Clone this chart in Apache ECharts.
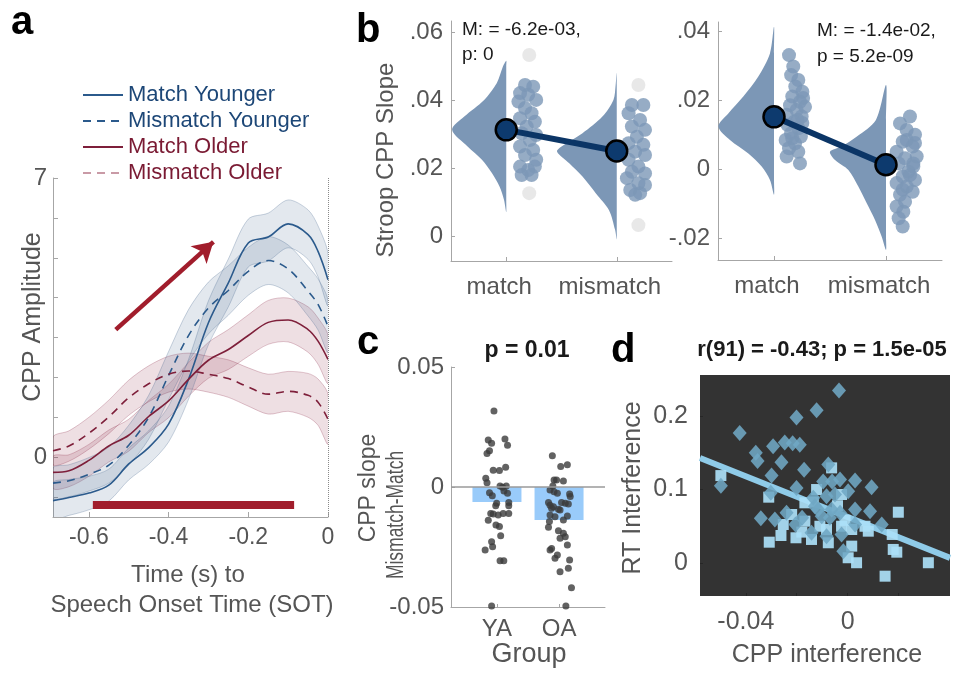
<!DOCTYPE html>
<html><head><meta charset="utf-8">
<script src="https://cdn.jsdelivr.net/npm/echarts@6/dist/echarts.min.js"></script>
<style>html,body{margin:0;padding:0;background:#fff}#c{width:953px;height:673px}</style>
</head><body><div id="c"></div>
<script>
// ================= DATA =================
// Panel a: CPP amplitude time courses
const timeS = [-0.69,-0.65,-0.6,-0.55,-0.5,-0.45,-0.4,-0.35,-0.3,-0.25,-0.2,-0.15,-0.1,-0.05,-0.025,0];
const matchYounger    = [-1.09,-1.01,-0.9,-0.7,-0.17,0.24,0.83,1.95,3.37,4.37,5.37,5.52,5.85,5.58,5.16,4.45];
const mismatchYounger = [-0.65,-0.59,-0.43,-0.2,0.3,1.0,2.05,3.05,3.74,4.18,4.66,4.93,4.72,4.16,3.83,3.28];
const matchOlder      = [-0.38,-0.34,-0.08,0.28,0.55,1.02,1.41,1.95,2.43,2.7,3.05,3.38,3.44,3.2,2.91,2.45];
const mismatchOlder   = [0.16,0.28,0.6,1.01,1.49,1.84,2.08,2.16,2.08,1.97,1.76,1.58,1.65,1.55,1.38,0.95];
const semMatchYounger    = [0.45,0.45,0.42,0.4,0.4,0.42,0.45,0.5,0.55,0.6,0.6,0.6,0.6,0.62,0.64,0.65];
const semMismatchYounger = [0.38,0.4,0.42,0.45,0.5,0.55,0.6,0.65,0.65,0.62,0.6,0.6,0.6,0.62,0.64,0.65];
const semMatchOlder      = [0.4,0.4,0.4,0.4,0.4,0.4,0.42,0.42,0.45,0.5,0.52,0.55,0.55,0.57,0.58,0.6];
const semMismatchOlder   = [0.35,0.38,0.4,0.42,0.44,0.45,0.45,0.45,0.45,0.47,0.48,0.5,0.5,0.55,0.58,0.62];
const sigWindow = [-0.59, -0.085];
const sigLevel = -1.2;
const arrowFrom = [-0.5325, 3.2];
const arrowTo = [-0.2875, 5.4];
const aXTicks = [-0.6, -0.4, -0.2, 0];
const aYTicks = [-1,0,1,2,3,4,5,6,7];
const aYLabels = [0, 7];

// Panel b: raincloud (left: younger, right: older)
const bCategories = ['match', 'mismatch'];
const b1Means = [0.0312, 0.0250];
const b2Means = [0.0151, 0.0012];
const b1Stats = ['M: = -6.2e-03,', 'p: 0'];
const b2Stats = ['M: = -1.4e-02,', 'p = 5.2e-09'];
const b1YTicks = [0, 0.02, 0.04, 0.06];
const b2YTicks = [-0.02, 0, 0.02, 0.04];
// violin profiles: [value, half-density width]
const b1VioMatch = [[0.0515,0],[0.0498,0.03],[0.045,0.085],[0.04,0.2],[0.0351,0.38],[0.0312,0.49],[0.0263,0.35],[0.0224,0.22],[0.0185,0.13],[0.0145,0.06],[0.0106,0.02],[0.007,0]];
const b1VioMismatch = [[0.048,0],[0.0444,0.01],[0.04,0.03],[0.0351,0.13],[0.0302,0.31],[0.0263,0.5],[0.0248,0.54],[0.0214,0.43],[0.0175,0.31],[0.0126,0.19],[0.0076,0.07],[0.0018,0.015],[-0.001,0]];
const b2VioMatch = [[0.0412,0],[0.0335,0.036],[0.0268,0.14],[0.021,0.274],[0.0161,0.408],[0.0123,0.497],[0.0084,0.393],[0.0045,0.229],[0.0007,0.11],[-0.0032,0.036],[-0.0075,0]];
const b2VioMismatch = [[0.0243,0],[0.0142,0.09],[0.0094,0.26],[0.0065,0.396],[0.005,0.5],[0.0026,0.455],[-0.0003,0.336],[-0.0051,0.247],[-0.0099,0.173],[-0.0148,0.098],[-0.0196,0.039],[-0.0235,0]];
// dots: [jitter, value]
const b1DotsMatch = [[0.17,0.0444],[0.244,0.0439],[0.125,0.042],[0.199,0.0415],[0.11,0.0395],[0.271,0.04],[0.17,0.0376],[0.229,0.0361],[0.125,0.0346],[0.259,0.0336],[0.185,0.0322],[0.14,0.0302],[0.271,0.0297],[0.214,0.0282],[0.125,0.0263],[0.244,0.0253],[0.17,0.0238],[0.271,0.0224],[0.125,0.0204],[0.199,0.0194],[0.259,0.0204],[0.14,0.0179],[0.229,0.0179]];
const b1OutMatch = [[0.208,0.0532],[0.208,0.0126]];
const b1DotsMismatch = [[0.137,0.0385],[0.241,0.0385],[0.107,0.0361],[0.211,0.0341],[0.137,0.0322],[0.256,0.0312],[0.182,0.0292],[0.107,0.0273],[0.241,0.0268],[0.167,0.0248],[0.256,0.0238],[0.107,0.0224],[0.196,0.0204],[0.137,0.0189],[0.256,0.0184],[0.092,0.017],[0.196,0.0155],[0.256,0.015],[0.122,0.0135],[0.211,0.0126],[0.167,0.0121]];
const b1OutMismatch = [[0.196,0.0444],[0.196,0.0032]];
const b2DotsMatch = [[0.134,0.033],[0.172,0.0297],[0.153,0.0272],[0.217,0.0258],[0.19,0.0239],[0.253,0.0224],[0.163,0.021],[0.26,0.0206],[0.232,0.0195],[0.143,0.0185],[0.277,0.018],[0.202,0.0171],[0.113,0.0157],[0.247,0.0152],[0.21,0.0142],[0.18,0.0137],[0.253,0.0133],[0.12,0.0128],[0.217,0.0118],[0.152,0.0103],[0.24,0.0094],[0.163,0.0089],[0.104,0.0084],[0.188,0.0074],[0.134,0.006],[0.217,0.005],[0.113,0.0036],[0.232,0.0016]];
const b2DotsMismatch = [[0.214,0.0152],[0.125,0.0132],[0.185,0.0113],[0.259,0.0099],[0.185,0.0084],[0.149,0.0079],[0.259,0.0075],[0.238,0.0065],[0.095,0.005],[0.274,0.0036],[0.17,0.0031],[0.113,0.0016],[0.244,0.0016],[0.244,0.0007],[0.2,-0.0008],[0.214,-0.0018],[0.149,-0.0022],[0.259,-0.0032],[0.095,-0.0041],[0.185,-0.0051],[0.149,-0.006],[0.238,-0.0066],[0.125,-0.0075],[0.17,-0.0095],[0.095,-0.0109],[0.155,-0.0124],[0.113,-0.0143],[0.149,-0.0167]];

// Panel c: interference by group
const cGroups = ['YA', 'OA'];
const cMeans = [-0.0063, -0.0138];
const cTitle = 'p = 0.01';
const cYTicks = [-0.05, 0, 0.05];
const cDotsYA = [[-0.048,0.0317],[-0.14,0.0196],[-0.086,0.0182],[0.129,0.02],[0.17,0.0174],[-0.12,0.0151],[-0.16,0.014],[-0.06,0.007],[0.04,0.0069],[0.14,0.0082],[-0.18,0.0036],[-0.16,0.0018],[0.05,0.0004],[0.09,-0.0001],[0.15,0.0004],[-0.12,-0.0024],[-0.075,-0.0036],[0.113,-0.0017],[0.17,-0.0026],[-0.005,-0.0068],[0.19,-0.0065],[0.19,-0.0078],[-0.02,-0.0078],[-0.1,-0.011],[-0.06,-0.0112],[0.02,-0.0117],[0.1,-0.011],[0.19,-0.011],[-0.14,-0.0139],[-0.016,-0.0158],[0.04,-0.0165],[0.06,-0.0203],[-0.086,-0.0228],[-0.07,-0.0249],[-0.19,-0.0263],[0.05,-0.0307],[0.11,-0.0307],[-0.086,-0.0496]];
const cDotsOA = [[-0.108,0.013],[0.027,0.0085],[0.134,0.0093],[-0.08,0.0029],[-0.04,0.0029],[0.07,0.0025],[-0.1,0.0004],[-0.145,-0.0012],[-0.08,-0.002],[-0.027,-0.0026],[0.17,-0.0029],[0.18,-0.004],[-0.17,-0.0065],[-0.145,-0.0076],[-0.12,-0.0089],[-0.09,-0.0082],[-0.01,-0.0093],[0.04,-0.0065],[0.1,-0.0068],[0.15,-0.0071],[0.016,-0.0096],[-0.145,-0.0117],[-0.065,-0.0124],[0.134,-0.0121],[0.07,-0.0138],[-0.155,-0.0144],[-0.17,-0.0168],[-0.01,-0.0182],[0.07,-0.0193],[0.016,-0.0214],[0.1,-0.0207],[0.134,-0.0242],[-0.12,-0.0256],[-0.145,-0.0263],[-0.027,-0.0283],[-0.065,-0.0297],[0.17,-0.0304],[0.15,-0.0339],[0.016,-0.0353],[0.2,-0.042],[0.11,-0.0496]];

// Panel d: CPP interference vs RT interference
const dTitle = 'r(91) = -0.43; p = 1.5e-05';
const dXRange = [-0.058, 0.0402];
const dYRange = [-0.045, 0.256];
const dXLabels = [-0.04, 0];
const dXTicks = [-0.04, -0.02, 0, 0.02];
const dYTicks = [0, 0.1, 0.2];
const dFitSlope = -1.384;
const dFitIntercept = 0.0626;
const dDiamonds = [[-0.0034,0.235],[-0.0122,0.208],[-0.0201,0.198],[-0.0424,0.177],[-0.0293,0.159],[-0.0247,0.164],[-0.0216,0.163],[-0.0188,0.161],[-0.0361,0.15],[-0.0354,0.139],[-0.026,0.137],[-0.0171,0.127],[-0.0076,0.134],[-0.0299,0.119],[-0.0498,0.105],[-0.0201,0.102],[-0.0302,0.0955],[-0.0096,0.111],[-0.0061,0.111],[-0.003,0.1136],[0.0029,0.1122],[0.0094,0.103],[0.0002,0.0977],[-0.0135,0.0887],[-0.0083,0.0909],[-0.005,0.0932],[-0.0341,0.061],[-0.0286,0.0592],[-0.024,0.0683],[-0.0179,0.0615],[-0.0205,0.0524],[-0.0116,0.0728],[-0.0063,0.0728],[-0.003,0.0683],[0.0029,0.0728],[0.0088,0.0705],[-0.007,0.0615],[-0.0142,0.0411],[-0.0083,0.0365],[-0.0024,0.0388],[0.0029,0.0524],[0.0134,0.0524],[-0.0017,0.016],[-0.0129,0.0773],[-0.0102,0.0637]];
const dSquares = [[-0.0498,0.119],[-0.031,0.0896],[-0.0063,0.1295],[-0.0122,0.1],[-0.0024,0.0932],[0.0199,0.0691],[-0.022,0.066],[-0.0168,0.0819],[-0.0253,0.0524],[-0.0262,0.0374],[-0.0308,0.0283],[-0.0203,0.0343],[-0.0142,0.032],[-0.0076,0.0275],[-0.0024,0.05],[0.0016,0.0456],[0.0068,0.05],[0.0081,0.0433],[0.0175,0.0388],[0.0016,0.0229],[0.0179,0.0184],[0.0193,0.0147],[0.0002,0.0071],[0.0035,0.0003],[0.0317,0.0003],[0.0147,-0.018],[-0.0168,0.0569],[-0.0109,0.05],[-0.0083,0.0456],[-0.0135,0.083],[-0.004,0.078],[-0.001,0.058],[-0.018,0.042]];

// ================= STYLE HELPERS =================
const FONT = '"Liberation Sans", Arial, Helvetica, sans-serif';
const GRAY_TXT = '#555555';
const AXIS_GRAY = '#a6a6a6';
const BLUE = '#2b5a8c', RED = '#7e1f3a';
const SIG_RED = '#a11d2c';
const RAIN = 'rgb(124,151,182)';

function txt(text, x, y, size, o) {
  o = o || {};
  return {type:'text', x:x, y:y, rotation:o.rot||0, scaleX:o.sx||1, silent:true, z:100,
    style:{text:text, fill:o.color||GRAY_TXT, font:(o.bold?'bold ':'')+size+'px '+FONT,
      align:o.align||'center', verticalAlign:'middle'}};
}
function axisBase(gi, min, max, o) {
  return Object.assign({type:'value', gridIndex:gi, min:min, max:max, splitLine:{show:false},
    axisLine:{show:true, onZero:false, lineStyle:{color:AXIS_GRAY, width:1}}}, o);
}

// band polygon (mean ± sem) through axis coordinates
function bandSeries(mid, sem, fill, stroke) {
  const rows = timeS.map((t,i) => [t, mid[i]-sem[i], mid[i]+sem[i]]);
  return {type:'custom', xAxisIndex:0, yAxisIndex:0, data:rows, encode:{x:0, y:[1,2]}, clip:true, silent:true, z:1,
    renderItem:function(params, api){
      if (params.dataIndex !== 0) return null;
      const up = rows.map(r => api.coord([r[0], r[2]]));
      const lo = rows.map(r => api.coord([r[0], r[1]])).reverse();
      return {type:'polygon', shape:{points:up.concat(lo), smooth:0.3}, style:{fill:fill, stroke:stroke, lineWidth:1}};
    }};
}
function lineSeries(name, ys, color, dashed) {
  return {type:'line', name:name, xAxisIndex:0, yAxisIndex:0, data:timeS.map((t,i)=>[t, ys[i]]),
    smooth:0.35, symbol:'none', z:3, silent:true,
    lineStyle:{color:color, width:1.6, type: dashed ? [8,6] : 'solid'}, itemStyle:{color:color}};
}
function violinSeries(gi, cat, prof) {
  return {type:'custom', xAxisIndex:gi, yAxisIndex:gi, data:prof.map(p => [cat - p[1], p[0]]), encode:{x:0, y:1}, silent:true, z:2,
    renderItem:function(params, api){
      if (params.dataIndex !== 0) return null;
      const left = prof.map(p => api.coord([cat - p[1], p[0]]));
      const right = prof.slice(1,-1).map(p => api.coord([cat, p[0]])).reverse();
      return {type:'polygon', shape:{points:left.concat(right), smooth:0.3}, style:{fill:RAIN}};
    }};
}
function dotSeries(gi, cat, dots, color, size, z) {
  return {type:'scatter', xAxisIndex:gi, yAxisIndex:gi, data:dots.map(d => [cat + d[0], d[1]]),
    symbol:'circle', symbolSize:size, itemStyle:{color:color}, silent:true, z:z||3};
}
function meanSeries(gi, means) {
  return {type:'line', xAxisIndex:gi, yAxisIndex:gi, data:means.map((m,i)=>[i+1, m]), symbol:'circle', symbolSize:21,
    lineStyle:{color:'#0b3566', width:6}, itemStyle:{color:'#0d3a6e', borderColor:'#000', borderWidth:2.5}, z:5, silent:true};
}
const bTickFmt = v => v === 0 ? '0' : (v < 0 ? '-' : '') + Math.abs(v).toFixed(2).replace(/^0/, '');

// ================= OPTION =================
const option = {
  animation:false,
  backgroundColor:'#ffffff',
  textStyle:{fontFamily:FONT},
  grid:[
    {left:53, top:178, width:275, height:339},
    {left:451, top:21, width:221, height:240},
    {left:718, top:22, width:224, height:238},
    {left:451, top:367, width:154, height:240},
    {left:700, top:375, width:250, height:221, show:true, backgroundColor:'#333333', borderWidth:0}
  ],
  xAxis:[
    axisBase(0, -0.69, 0, {
      axisTick:{show:true, inside:true, length:5, customValues:aXTicks, lineStyle:{color:AXIS_GRAY}},
      axisLabel:{customValues:aXTicks, color:GRAY_TXT, fontSize:23, margin:9, formatter:v => v===0?'0':v.toFixed(1)}}),
    axisBase(1, 0.5, 2.5, {
      axisTick:{show:true, inside:true, length:4, customValues:[1,2], lineStyle:{color:AXIS_GRAY}},
      axisLabel:{customValues:[1,2], color:GRAY_TXT, fontSize:24, margin:14, padding:[0,14,0,0], formatter:v => bCategories[Math.round(v)-1]}}),
    axisBase(2, 0.5, 2.5, {
      axisTick:{show:true, inside:true, length:4, customValues:[1,2], lineStyle:{color:AXIS_GRAY}},
      axisLabel:{customValues:[1,2], color:GRAY_TXT, fontSize:24, margin:14, padding:[0,14,0,0], formatter:v => bCategories[Math.round(v)-1]}}),
    axisBase(3, 0.26, 2.74, {
      axisTick:{show:true, inside:true, length:3, customValues:[1,2], lineStyle:{color:AXIS_GRAY}},
      axisLabel:{customValues:[1,2], color:GRAY_TXT, fontSize:24, margin:10, formatter:v => cGroups[Math.round(v)-1]}}),
    axisBase(4, dXRange[0], dXRange[1], {
      axisLine:{show:false, onZero:false},
      axisTick:{show:true, inside:true, length:3, customValues:dXTicks, lineStyle:{color:'#262626'}},
      axisLabel:{customValues:dXLabels, color:GRAY_TXT, fontSize:25, margin:14, formatter:v => v===0?'0':v.toFixed(2)}})
  ],
  yAxis:[
    axisBase(0, -1.5, 7, {
      axisTick:{show:true, inside:true, length:5, customValues:aYTicks, lineStyle:{color:AXIS_GRAY}},
      axisLabel:{customValues:aYLabels, color:GRAY_TXT, fontSize:24, margin:6, formatter:v => String(v)}}),
    axisBase(1, -0.00735, 0.0632, {
      axisTick:{show:true, inside:true, length:4, customValues:b1YTicks, lineStyle:{color:AXIS_GRAY}},
      axisLabel:{customValues:b1YTicks, color:GRAY_TXT, fontSize:24, margin:8, formatter:bTickFmt}}),
    axisBase(2, -0.0264, 0.0426, {
      axisTick:{show:true, inside:true, length:4, customValues:b2YTicks, lineStyle:{color:AXIS_GRAY}},
      axisLabel:{customValues:b2YTicks, color:GRAY_TXT, fontSize:24, margin:8, formatter:bTickFmt}}),
    axisBase(3, -0.05, 0.05, {
      axisTick:{show:true, inside:true, length:4, customValues:cYTicks, lineStyle:{color:AXIS_GRAY}},
      axisLabel:{customValues:cYTicks, color:GRAY_TXT, fontSize:24, margin:7, formatter:v => v===0?'0':v.toFixed(2)}}),
    axisBase(4, dYRange[0], dYRange[1], {
      axisLine:{show:false, onZero:false},
      axisTick:{show:true, inside:true, length:3, customValues:dYTicks, lineStyle:{color:'#262626'}},
      axisLabel:{customValues:dYTicks, color:GRAY_TXT, fontSize:25, margin:12, formatter:v => v===0?'0':v.toFixed(1)}})
  ],
  legend:{
    orient:'vertical', left:77, top:79, itemWidth:40, itemHeight:12, itemGap:4, selectedMode:false,
    itemStyle:{opacity:0, borderWidth:0},
    textStyle:{fontSize:22, fontFamily:FONT},
    data:[
      {name:'Match Younger', textStyle:{color:'#1d4777'}},
      {name:'Mismatch Younger', textStyle:{color:'#1d4777'}},
      {name:'Match Older', textStyle:{color:'#7a1a33'}},
      {name:'Mismatch Older', textStyle:{color:'#7a1a33'}, lineStyle:{color:'#c99aa6'}}
    ]
  },
  series:[
    // ----- panel a -----
    bandSeries(matchOlder, semMatchOlder, 'rgba(140,40,70,0.15)', 'rgba(140,40,70,0.26)'),
    bandSeries(mismatchOlder, semMismatchOlder, 'rgba(140,40,70,0.15)', 'rgba(140,40,70,0.26)'),
    bandSeries(matchYounger, semMatchYounger, 'rgba(70,100,140,0.15)', 'rgba(70,100,140,0.28)'),
    bandSeries(mismatchYounger, semMismatchYounger, 'rgba(70,100,140,0.15)', 'rgba(70,100,140,0.28)'),
    Object.assign(lineSeries('Match Younger', matchYounger, BLUE, false), {
      markLine:{silent:true, symbol:'none', label:{show:false}, animation:false,
        lineStyle:{color:'#8a8a8a', type:'dotted', width:1}, data:[{xAxis:0}]}}),
    lineSeries('Mismatch Younger', mismatchYounger, BLUE, true),
    lineSeries('Match Older', matchOlder, RED, false),
    lineSeries('Mismatch Older', mismatchOlder, RED, true),
    {type:'line', xAxisIndex:0, yAxisIndex:0, data:[[sigWindow[0], sigLevel],[sigWindow[1], sigLevel]],
      symbol:'none', lineStyle:{color:SIG_RED, width:8, cap:'butt'}, silent:true, z:4,
      markLine:{silent:true, symbol:['none','arrow'], symbolSize:[18,20], label:{show:false}, animation:false,
        lineStyle:{color:SIG_RED, width:4.5, type:'solid'},
        data:[[{coord:arrowFrom},{coord:arrowTo}]]}},
    // ----- panel b left -----
    violinSeries(1, 1, b1VioMatch),
    violinSeries(1, 2, b1VioMismatch),
    dotSeries(1, 1, b1OutMatch, '#e2e2e2', 14),
    dotSeries(1, 2, b1OutMismatch, '#e2e2e2', 14),
    dotSeries(1, 1, b1DotsMatch, RAIN, 14),
    dotSeries(1, 2, b1DotsMismatch, RAIN, 14),
    meanSeries(1, b1Means),
    // ----- panel b right -----
    violinSeries(2, 1, b2VioMatch),
    violinSeries(2, 2, b2VioMismatch),
    dotSeries(2, 1, b2DotsMatch, RAIN, 14),
    dotSeries(2, 2, b2DotsMismatch, RAIN, 14),
    meanSeries(2, b2Means),
    // ----- panel c -----
    {type:'bar', xAxisIndex:3, yAxisIndex:3, data:cMeans.map((m,i)=>[i+1, m]), barWidth:49,
      itemStyle:{color:'#99cbfa'}, silent:true, z:2,
      markLine:{silent:true, symbol:'none', label:{show:false}, animation:false,
        lineStyle:{color:'#9a9a9a', type:'solid', width:1.5}, data:[{yAxis:0}]}},
    dotSeries(3, 1, cDotsYA, '#3b3b3b', 7, 4),
    dotSeries(3, 2, cDotsOA, '#3b3b3b', 7, 4),
    // ----- panel d -----
    {type:'line', xAxisIndex:4, yAxisIndex:4, symbol:'none', silent:true, z:2,
      data:dXRange.map(x => [x, dFitIntercept + dFitSlope * x]),
      lineStyle:{color:'#8fcbe8', width:6}},
    {type:'scatter', xAxisIndex:4, yAxisIndex:4, data:dSquares, symbol:'rect', symbolSize:11,
      itemStyle:{color:'#abdff7', opacity:0.92}, silent:true, z:3},
    {type:'scatter', xAxisIndex:4, yAxisIndex:4, data:dDiamonds, symbol:'diamond', symbolSize:[14,16],
      itemStyle:{color:'#6fa7c4', opacity:0.88}, silent:true, z:4}
  ],
  graphic:[
    txt('a', 11, 23, 40, {bold:true, color:'#000', align:'left'}),
    txt('b', 356, 31, 40, {bold:true, color:'#000', align:'left'}),
    txt('c', 357, 343, 40, {bold:true, color:'#000', align:'left'}),
    txt('d', 611, 351, 40, {bold:true, color:'#000', align:'left'}),
    txt('CPP Amplitude', 33, 317, 25, {rot:Math.PI/2}),
    txt('Time (s) to', 188, 575, 24),
    txt('Speech Onset Time (SOT)', 192, 605, 24),
    txt('Stroop CPP Slope', 386, 160, 24, {rot:Math.PI/2}),
    txt(b1Stats[0], 462, 30, 19, {color:'#1a1a1a', align:'left'}),
    txt(b1Stats[1], 462, 55, 19, {color:'#1a1a1a', align:'left'}),
    txt(b2Stats[0], 817, 31, 19, {color:'#1a1a1a', align:'left'}),
    txt(b2Stats[1], 817, 57, 19, {color:'#1a1a1a', align:'left'}),
    txt(cTitle, 527, 351, 23, {bold:true, color:'#1a1a1a'}),
    txt('CPP slope', 369, 488, 23, {rot:Math.PI/2}),
    txt('Mismatch-Match', 397, 515, 23, {rot:Math.PI/2, sx:0.76}),
    txt('Group', 529, 655, 27),
    txt(dTitle, 822, 350, 22, {bold:true, color:'#1a1a1a'}),
    txt('RT Interference', 633, 488, 25, {rot:Math.PI/2}),
    txt('CPP interference', 827, 655, 25)
  ]
};
const chart = echarts.init(document.getElementById('c'), null, {renderer:'canvas'});
chart.setOption(option);
</script></body></html>
